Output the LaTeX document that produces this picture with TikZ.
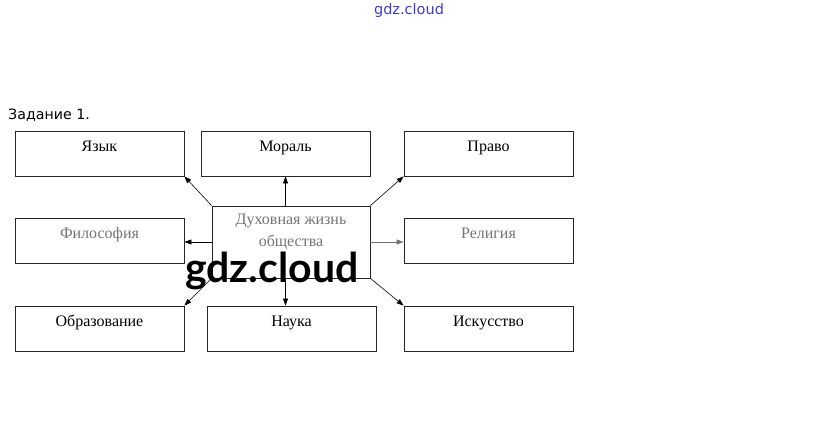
\documentclass[tikz,border=0pt]{standalone}
\usepackage{fontspec}
\setmainfont{Liberation Serif}
\newfontfamily\headfont{DejaVu Sans}
\newfontfamily\markfont{Lato}
\usetikzlibrary{arrows.meta}
\definecolor{gblue}{RGB}{60,60,210}
\definecolor{fade}{RGB}{115,115,115}

\begin{document}
\begin{tikzpicture}[x=1pt,y=-1pt,font=\fontsize{16}{19.2}\selectfont,
    box/.style={draw=black!85,line width=0.8pt,minimum width=169pt,minimum height=45pt,
                inner sep=0pt,text height=20pt,text depth=25pt},
    every edge/.style={draw,-{Triangle[length=7pt,width=5pt]},line width=0.6pt}]
  \useasboundingbox (0,0) rectangle (823,447);
  \node[font={\headfont\fontsize{14.5}{17}\selectfont},text=gblue,anchor=base,inner sep=0pt] (site) at (409,14.5) {gdz.cloud};
  \node[font={\headfont\fontsize{14.2}{17}\selectfont},anchor=base west,inner sep=0pt] (task) at (8,119) {Задание 1.};
  % boxes
  \node[box] (lang) at (99.5,153.5) {Язык};
  \node[box] (moral) at (285.5,153.5) {Мораль};
  \node[box] (law) at (488.5,153.5) {Право};
  \node[box,text=fade] (phil) at (99.5,240.5) {Философия};
  \node[box,text=fade] (relig) at (488.5,240.5) {Религия};
  \node[box] (edu) at (99.5,328.5) {Образование};
  \node[box] (sci) at (291.5,328.5) {Наука};
  \node[box] (art) at (488.5,328.5) {Искусство};
  \node[draw=black!85,line width=0.8pt,minimum width=158pt,minimum height=72pt,inner sep=0pt] (life) at (291,242) {};
  \node[anchor=base,align=center,text=fade,inner sep=0pt] (lifetxt) at ([yshift=-41pt]life.north) {Духовная жизнь\\[2.8pt]общества};
  % arrows
  \path (life.north west) edge (lang.south east);
  \path (moral.south |- life.north) edge (moral.south);
  \path (life.north east) edge (law.south west);
  \path (life.west) edge (life.west -| phil.east);
  \path (life.east) edge[draw=fade] (life.east -| relig.west);
  \path (life.south west) edge (edu.north east);
  \path (moral.south |- life.south) edge (moral.south |- sci.north);
  \path (life.south east) edge (art.north west);
  \node[font={\markfont\bfseries\fontsize{41}{48}\selectfont},anchor=base west,inner sep=0pt] (mark) at (185,282) {gdz.cloud};
\end{tikzpicture}
\end{document}
